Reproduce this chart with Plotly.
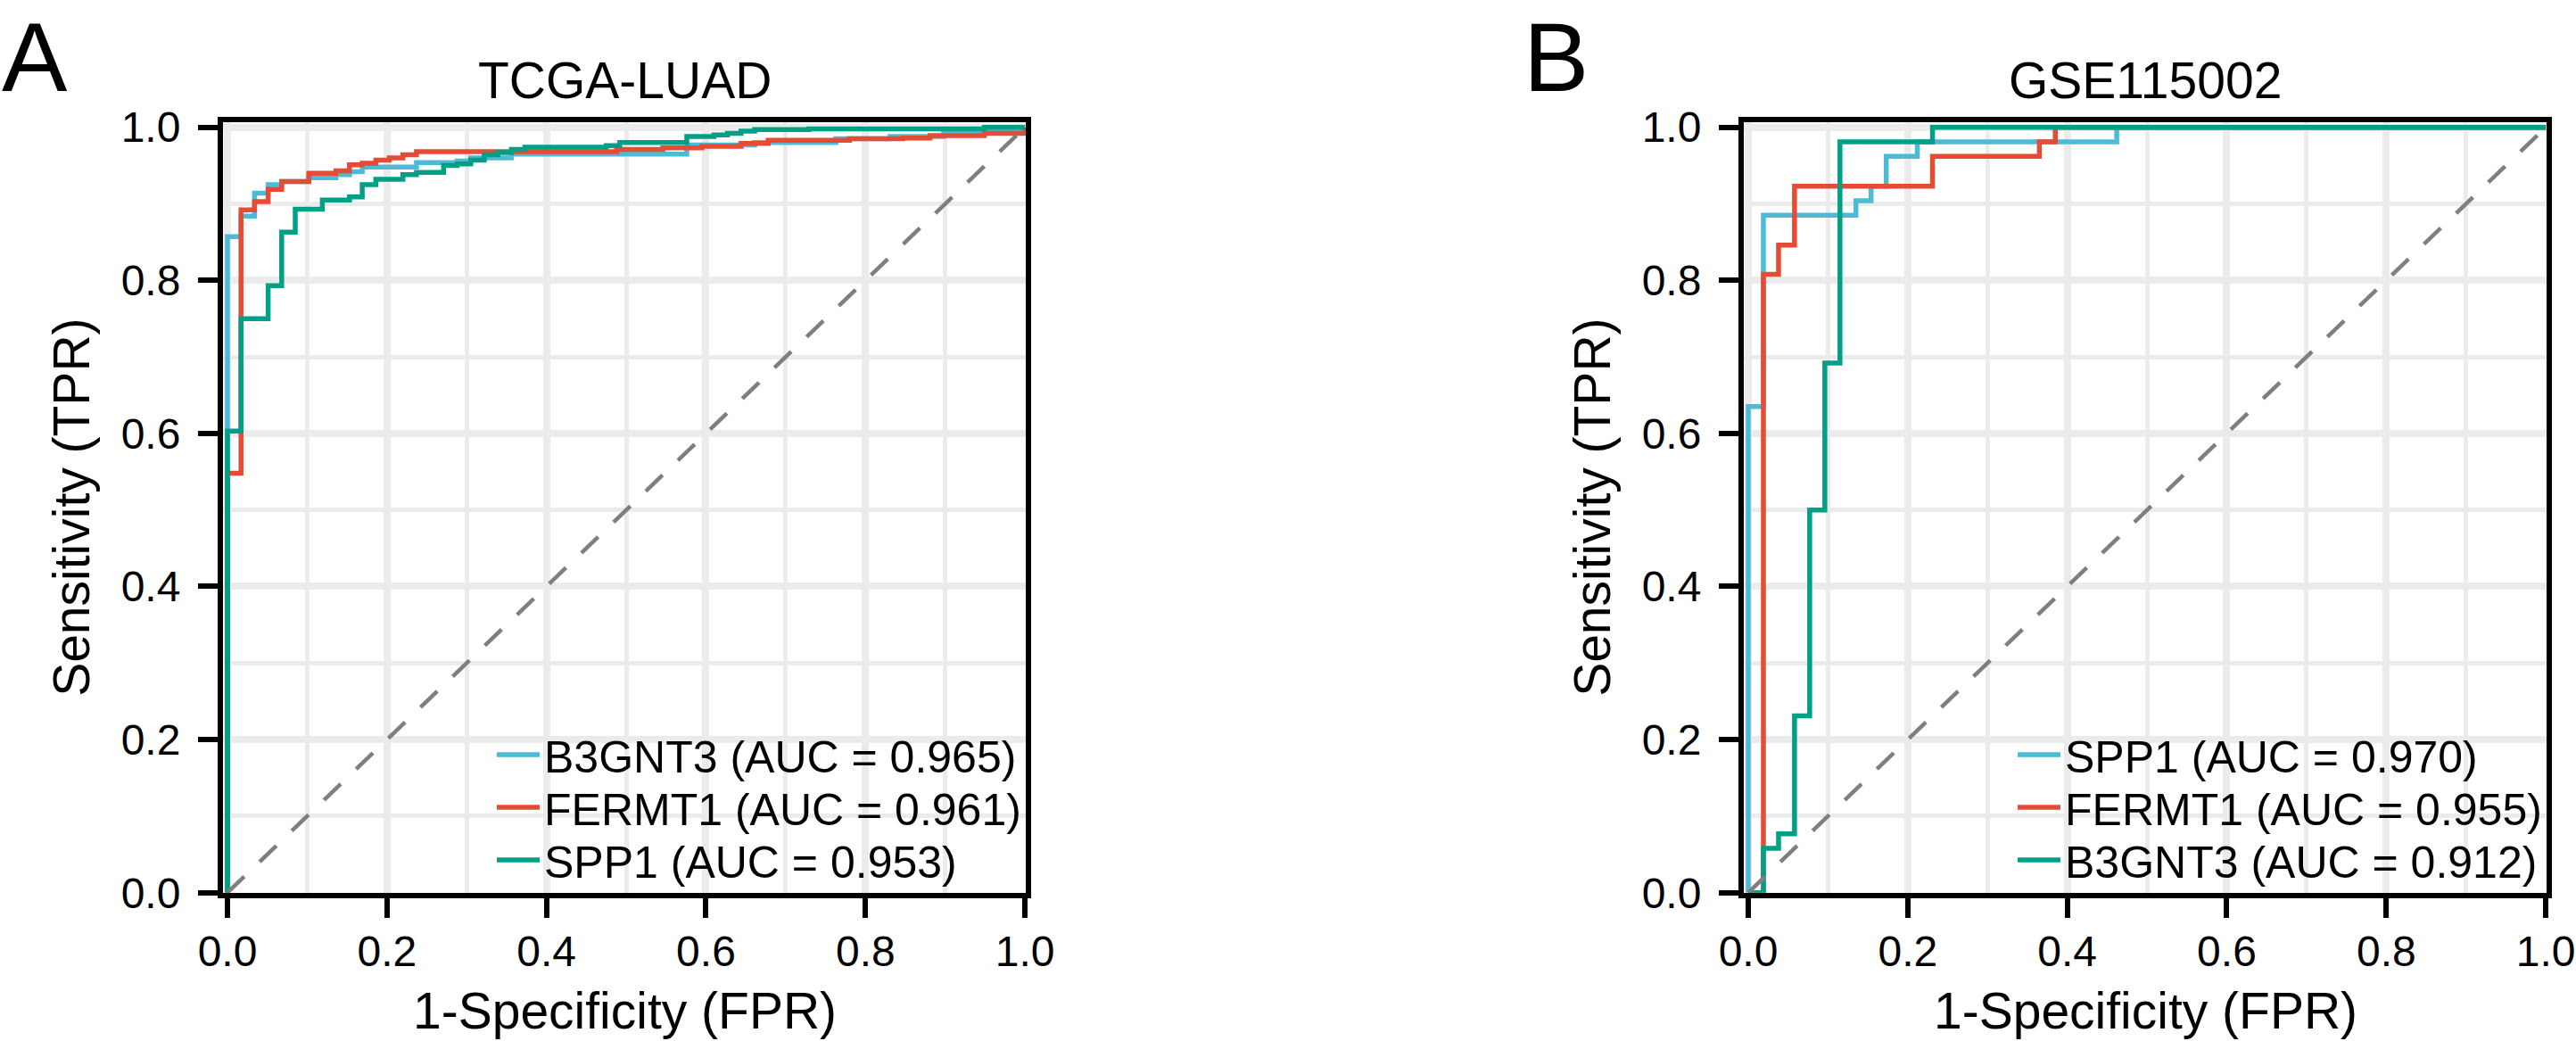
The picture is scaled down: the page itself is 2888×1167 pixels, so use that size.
import plotly.graph_objects as go

FONT = "Liberation Sans, Arial, Helvetica, sans-serif"
NPG = ["#4DBBD5", "#E64B35", "#00A087"]   # colour by legend order (1st, 2nd, 3rd)
GRID = "#EBEBEB"

# ---------------------------------------------------------------------------
# Panel A: TCGA-LUAD ROC curves (fpr / tpr at the top of every step)
# ---------------------------------------------------------------------------
tcga_genes = ["B3GNT3", "FERMT1", "SPP1"]
tcga_auc = [0.965, 0.961, 0.953]

tcga_b3gnt3_fpr = [0, 0, 0.017, 0.034, 0.051, 0.068, 0.102, 0.136, 0.153, 0.169, 0.237,
                   0.288, 0.305, 0.356, 0.576, 0.661, 0.763, 0.831, 0.898, 1.0]
tcga_b3gnt3_tpr = [0, 0.857, 0.884, 0.914, 0.925, 0.929, 0.934, 0.938, 0.942, 0.948, 0.954,
                   0.956, 0.960, 0.965, 0.977, 0.980, 0.985, 0.988, 0.994, 1.0]

tcga_fermt1_fpr = [0, 0, 0.017, 0.034, 0.051, 0.068, 0.102, 0.136, 0.153, 0.169, 0.186, 0.203,
                   0.220, 0.237, 0.488, 0.546, 0.595, 0.644, 0.678, 0.780, 0.847, 0.881, 0.949, 1.0]
tcga_fermt1_tpr = [0, 0.548, 0.892, 0.903, 0.919, 0.929, 0.940, 0.943, 0.951, 0.953, 0.957, 0.960,
                   0.964, 0.968, 0.971, 0.973, 0.975, 0.979, 0.983, 0.985, 0.986, 0.989, 0.992, 1.0]

tcga_spp1_fpr = [0, 0, 0.017, 0.051, 0.068, 0.085, 0.119, 0.153, 0.169, 0.186, 0.220, 0.237,
                 0.271, 0.288, 0.305, 0.322, 0.339, 0.356, 0.373, 0.475, 0.492, 0.576, 0.610,
                 0.627, 0.644, 0.661, 0.729, 0.949, 1.0]
tcga_spp1_tpr = [0, 0.603, 0.750, 0.793, 0.863, 0.893, 0.905, 0.909, 0.925, 0.932, 0.938, 0.941,
                 0.950, 0.952, 0.957, 0.964, 0.967, 0.971, 0.974, 0.976, 0.980, 0.988, 0.990,
                 0.992, 0.995, 0.997, 0.998, 1.0, 1.0]

# ---------------------------------------------------------------------------
# Panel B: GSE115002 ROC curves
# ---------------------------------------------------------------------------
gse_genes = ["SPP1", "FERMT1", "B3GNT3"]
gse_auc = [0.970, 0.955, 0.912]

gse_spp1_fpr = [0, 0, 0.019, 0.135, 0.154, 0.173, 0.212, 0.462, 1.0]
gse_spp1_tpr = [0, 0.635, 0.885, 0.904, 0.923, 0.962, 0.981, 1.0, 1.0]

gse_fermt1_fpr = [0, 0.019, 0.038, 0.058, 0.231, 0.365, 0.385, 1.0]
gse_fermt1_tpr = [0, 0.808, 0.846, 0.923, 0.962, 0.981, 1.0, 1.0]

gse_b3gnt3_fpr = [0, 0.019, 0.038, 0.058, 0.077, 0.096, 0.115, 0.231, 1.0]
gse_b3gnt3_tpr = [0, 0.058, 0.077, 0.231, 0.500, 0.692, 0.981, 1.0, 1.0]

diag_x = [0, 1]
diag_y = [0, 1]

tick_vals = [0, 0.2, 0.4, 0.6, 0.8, 1.0]

panels = [
    dict(title="TCGA-LUAD", tag="A", genes=tcga_genes, auc=tcga_auc,
         curves=[(tcga_b3gnt3_fpr, tcga_b3gnt3_tpr), (tcga_fermt1_fpr, tcga_fermt1_tpr),
                 (tcga_spp1_fpr, tcga_spp1_tpr)]),
    dict(title="GSE115002", tag="B", genes=gse_genes, auc=gse_auc,
         curves=[(gse_spp1_fpr, gse_spp1_tpr), (gse_fermt1_fpr, gse_fermt1_tpr),
                 (gse_b3gnt3_fpr, gse_b3gnt3_tpr)]),
]

W, H = 2888, 1167
# pixel geometry: plot-area (left, right) per panel, shared top / bottom
PANEL_X = [(250, 1150), (1955, 2855)]
TOP, BOTTOM = 137, 1000.7
XR = [-0.0056, 1.001]
YR = [0, 1.0066]
TAG_X = [0, 1706]
LEG_X = [552, 2257]          # left edge of the legend boxes (px)
LEG_ROWS = [846, 905, 964]   # legend row centres (px from top)


def py(v):
    return (H - v) / H


fig = go.Figure()
layout = dict(width=W, height=H, margin=dict(l=0, r=0, t=0, b=0, autoexpand=False),
              paper_bgcolor="white", plot_bgcolor="white",
              font=dict(family=FONT, color="black"), annotations=[])


def axis(domain, rng, anchor):
    return dict(domain=domain, range=rng, anchor=anchor,
                tickmode="array", tickvals=tick_vals, ticktext=[f"{v:.1f}" for v in tick_vals],
                showgrid=True, gridcolor=GRID, gridwidth=8,
                minor=dict(dtick=0.1, tick0=0, showgrid=True, gridcolor=GRID, gridwidth=4.5, ticks=""),
                showline=True, linecolor="black", linewidth=6, mirror=True,
                ticks="outside", ticklen=22, tickwidth=6, tickcolor="black",
                tickfont=dict(family=FONT, size=48, color="black"), ticklabeloverflow="allow",
                zeroline=False, fixedrange=True)


k = 0
for i, p in enumerate(panels):
    sfx = "" if i == 0 else str(i + 1)
    xa, ya = "x" + sfx, "y" + sfx
    x0, x1 = PANEL_X[i]
    layout["xaxis" + sfx] = axis([x0 / W, x1 / W], XR, ya)
    layout["yaxis" + sfx] = axis([py(BOTTOM), py(TOP)], YR, xa)
    layout["yaxis" + sfx]["ticklabelstandoff"] = 10
    layout["xaxis" + sfx]["ticklabelstandoff"] = -3

    for j, (gene, auc, (fx, ty)) in enumerate(zip(p["genes"], p["auc"], p["curves"])):
        leg = "legend" if k == 0 else f"legend{k + 1}"
        fig.add_trace(go.Scatter(x=fx, y=ty, mode="lines", line=dict(color=NPG[j], width=5.5, shape="hv"),
                                 name=f"{gene} (AUC = {auc:.3f})", xaxis=xa, yaxis=ya, legend=leg))
        # one legend per entry so the row spacing follows the reference
        layout[leg] = dict(x=LEG_X[i] / W, xanchor="left", y=py(LEG_ROWS[j]), yanchor="middle",
                           bgcolor="rgba(0,0,0,0)", borderwidth=0, itemwidth=48,
                           font=dict(family=FONT, size=50, color="black"))
        k += 1
    fig.add_trace(go.Scatter(x=diag_x, y=diag_y, mode="lines", showlegend=False, xaxis=xa, yaxis=ya,
                             line=dict(color="#7F7F7F", width=4.5, dash="26px,24px")))

    cx = (x0 + x1) / 2
    layout["annotations"] += [
        dict(text=p["title"], x=cx / W, y=py(90), xref="paper", yref="paper",
             xanchor="center", yanchor="middle", showarrow=False, font=dict(size=57)),
        dict(text="1-Specificity (FPR)", x=cx / W, y=py(1133), xref="paper", yref="paper",
             xanchor="center", yanchor="middle", showarrow=False, font=dict(size=57)),
        dict(text="Sensitivity (TPR)", x=(x0 - 170) / W, y=py((TOP + BOTTOM) / 2), xref="paper",
             yref="paper", xanchor="center", yanchor="middle", textangle=-90,
             showarrow=False, font=dict(size=57)),
        dict(text=p["tag"], x=TAG_X[i] / W, y=1, xref="paper", yref="paper",
             xanchor="left", yanchor="top", showarrow=False, font=dict(size=110)),
    ]

fig.update_layout(**layout)
fig.write_html("out.html", config={"displayModeBar": False},
               post_script="document.body.style.margin='0';document.body.style.overflow='hidden';")
